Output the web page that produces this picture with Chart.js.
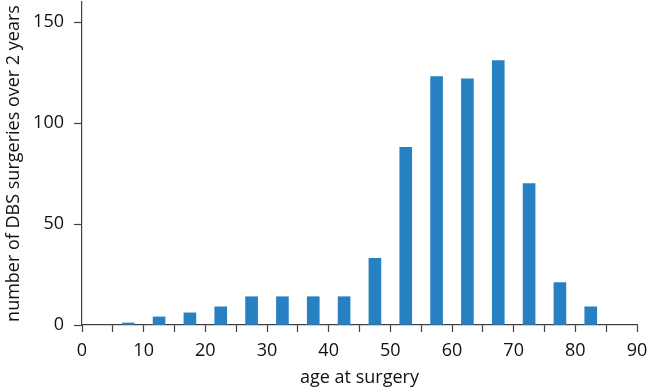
<!DOCTYPE html>
<html>
<head>
<meta charset="utf-8">
<script src="https://cdn.jsdelivr.net/npm/chart.js@4"></script>
<style>
  html, body { margin: 0; padding: 0; background: #fff; }
</style>
</head>
<body>
<canvas id="dbs" width="650" height="389"></canvas>
<script>
// age bins (centre of each 5-year bin) and surgery counts
const ages = [7.5, 12.5, 17.5, 22.5, 27.5, 32.5, 37.5, 42.5, 47.5, 52.5, 57.5, 62.5, 67.5, 72.5, 77.5, 82.5];
const surgeries = [1, 4, 6, 9, 14, 14, 14, 14, 33, 88, 123, 122, 131, 70, 21, 9];
const xTicks = [0, 10, 20, 30, 40, 50, 60, 70, 80, 90];
const yTicks = [0, 50, 100, 150];

const axisColor = '#404040';
const font = { family: 'Open Sans', size: 18 };

var points = ages.map((a, i) => ({ x: a, y: surgeries[i] }));

var ctx = document.getElementById('dbs');
var chart = new Chart(ctx, {
  type: 'bar',
  data: {
    datasets: [{
      data: points,
      backgroundColor: '#2680c2',
      borderWidth: 0,
      barThickness: 12
    }]
  },
  options: {
    responsive: false,
    animation: false,
    maintainAspectRatio: false,
    layout: { padding: { left: 0, right: 13, top: 2, bottom: 0 } },
    plugins: { legend: { display: false }, tooltip: { enabled: false } },
    scales: {
      x: {
        type: 'linear',
        min: 0,
        max: 90,
        offset: false,
        afterBuildTicks: s => { s.ticks = []; for (let v = 0; v <= 90; v += 5) s.ticks.push({ value: v }); },
        afterFit: s => { s.height = 64; s.paddingLeft = 0; s.paddingRight = 0; },
        ticks: {
          autoSkip: false,
          maxRotation: 0,
          color: '#111',
          font: font,
          padding: 8,
          callback: v => xTicks.includes(v) ? String(v) : ''
        },
        grid: { offset: false, drawOnChartArea: false, tickLength: 7, color: axisColor, tickWidth: 1.2 },
        border: { color: axisColor, width: 1.2 },
        title: { display: true, text: 'age at surgery', color: '#111', font: font, padding: { top: 2, bottom: 0 } }
      },
      y: {
        min: 0,
        max: 160,
        afterBuildTicks: s => { s.ticks = yTicks.map(v => ({ value: v })); },
        afterFit: s => { s.width = 82; s.paddingTop = 0; s.paddingBottom = 0; },
        ticks: { color: '#111', font: font, padding: 10 },
        grid: { drawOnChartArea: false, tickLength: 8, color: axisColor, tickWidth: 1.2 },
        border: { color: axisColor, width: 1.2 },
        title: { display: true, text: 'number of DBS surgeries over 2 years', color: '#111', font: font, padding: { top: 3, bottom: 4 } }
      }
    }
  }
});
</script>
</body>
</html>
